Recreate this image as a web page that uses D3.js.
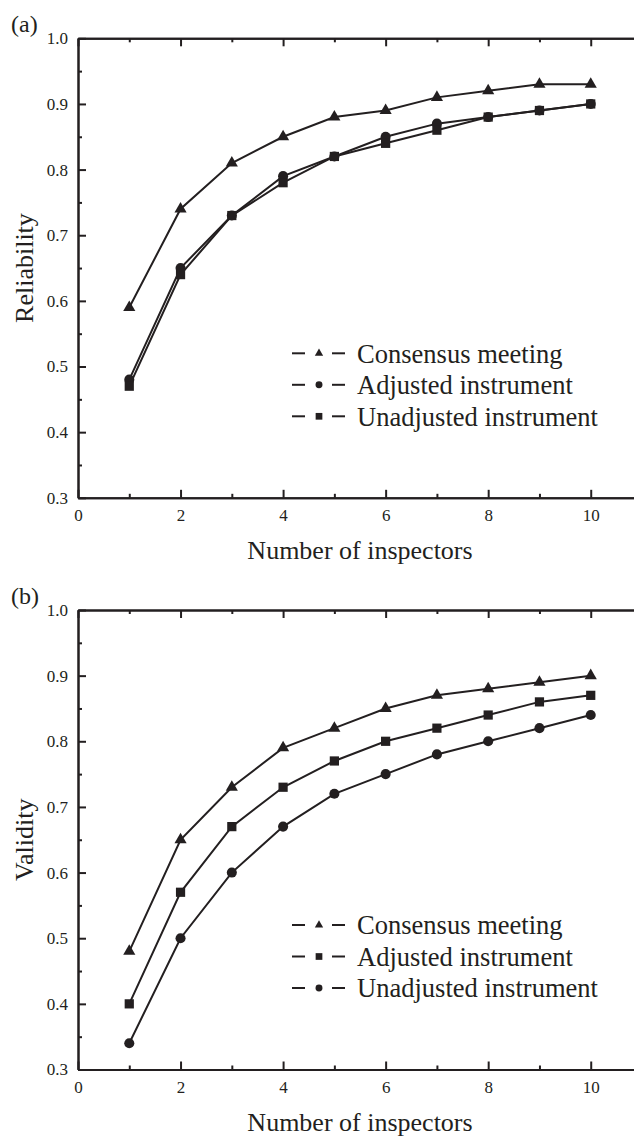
<!DOCTYPE html>
<html>
<head>
<meta charset="utf-8">
<script src="https://cdn.jsdelivr.net/npm/d3@7"></script>
<style>
  body { margin: 0; background: #fff; }
  svg { display: block; }
  .axis path, .axis line { stroke: #231f20; stroke-width: 2; }
  .axis text { font-family: "Liberation Serif", "Times New Roman", serif; font-size: 17px; fill: #231f20; }
  .title-text { font-family: "Liberation Serif", "Times New Roman", serif; font-size: 26px; fill: #231f20; }
  .legend-text { font-family: "Liberation Serif", "Times New Roman", serif; font-size: 27.5px; fill: #231f20; }
</style>
</head>
<body>
<svg id="chart" width="634" height="1136"></svg>
<script>
// x values shared by both panels
const inspectors = [1, 2, 3, 4, 5, 6, 7, 8, 9, 10];
const xMajorTicks = [0, 2, 4, 6, 8, 10];
const xMinorTicks = [1, 3, 5, 7, 9];
const yMajorTicks = [0.3, 0.4, 0.5, 0.6, 0.7, 0.8, 0.9, 1.0];
const yMinorTicks = [0.35, 0.45, 0.55, 0.65, 0.75, 0.85, 0.95];

// panel (a) reliability
const relConsensus  = [0.59, 0.74, 0.81, 0.85, 0.88, 0.89, 0.91, 0.92, 0.93, 0.93];
const relAdjusted   = [0.48, 0.65, 0.73, 0.79, 0.82, 0.85, 0.87, 0.88, 0.89, 0.90];
const relUnadjusted = [0.47, 0.64, 0.73, 0.78, 0.82, 0.84, 0.86, 0.88, 0.89, 0.90];

// panel (b) validity
const valConsensus  = [0.48, 0.65, 0.73, 0.79, 0.82, 0.85, 0.87, 0.88, 0.89, 0.90];
const valAdjusted   = [0.40, 0.57, 0.67, 0.73, 0.77, 0.80, 0.82, 0.84, 0.86, 0.87];
const valUnadjusted = [0.34, 0.50, 0.60, 0.67, 0.72, 0.75, 0.78, 0.80, 0.82, 0.84];

const seriesNames = ["Consensus meeting", "Adjusted instrument", "Unadjusted instrument"];

const ink = "#231f20";
const svg = d3.select("#chart");

// marker shapes and sizes (area)
const shapes = {
    triangle: { type: d3.symbolTriangle, plot: 64, legend: 30 },
    circle:   { type: d3.symbolCircle,   plot: 80, legend: 38 },
    square:   { type: d3.symbolSquare,   plot: 85, legend: 45 }
};

function drawPanel(config) {
    const left = 78, right = 642,
        top = config.top, bottom = config.top + 459.5;

    const x = d3.scaleLinear().domain([0, 11]).range([left, right]);
    const y = d3.scaleLinear().domain([0.3, 1.0]).range([bottom, top]);

    const g = svg.append("g");

    // axes: major + minor, ticks pointing inward
    const addAxis = (axis, tx, ty) => g.append("g")
        .attr("class", "axis")
        .attr("transform", "translate(" + tx + "," + ty + ")")
        .call(axis);

    addAxis(d3.axisBottom(x).tickValues(xMajorTicks).tickSize(-8).tickSizeOuter(0).tickPadding(11), 0, bottom);
    addAxis(d3.axisBottom(x).tickValues(xMinorTicks).tickSize(-4).tickSizeOuter(0).tickFormat(""), 0, bottom);
    addAxis(d3.axisTop(x).tickValues(xMajorTicks).tickSize(-8).tickSizeOuter(0).tickFormat(""), 0, top);
    addAxis(d3.axisTop(x).tickValues(xMinorTicks).tickSize(-4).tickSizeOuter(0).tickFormat(""), 0, top);
    addAxis(d3.axisLeft(y).tickValues(yMajorTicks).tickSize(-8).tickSizeOuter(0).tickPadding(10).tickFormat(d3.format(".1f")), left, 0);
    addAxis(d3.axisLeft(y).tickValues(yMinorTicks).tickSize(-4).tickSizeOuter(0).tickFormat(""), left, 0);
    addAxis(d3.axisRight(y).tickValues(yMajorTicks).tickSize(-8).tickSizeOuter(0).tickFormat(""), right, 0);

    // series lines and markers
    const line = d3.line().x((d, i) => x(inspectors[i])).y(d => y(d));

    config.series.forEach(s => {
        g.append("path")
            .datum(s.values)
            .attr("d", line)
            .attr("fill", "none")
            .attr("stroke", ink)
            .attr("stroke-width", 2);

        g.selectAll(null)
            .data(s.values)
            .join("path")
            .attr("transform", (d, i) => "translate(" + x(inspectors[i]) + "," + y(d) + ")")
            .attr("d", d3.symbol().type(shapes[s.shape].type).size(shapes[s.shape].plot))
            .attr("fill", ink);
    });

    // legend
    const legend = g.append("g");
    config.series.forEach((s, i) => {
        const ly = top + 315 + i * 31.5;
        legend.append("line").attr("x1", 292).attr("x2", 305).attr("y1", ly).attr("y2", ly)
            .attr("stroke", ink).attr("stroke-width", 2);
        legend.append("line").attr("x1", 332).attr("x2", 345).attr("y1", ly).attr("y2", ly)
            .attr("stroke", ink).attr("stroke-width", 2);
        legend.append("path")
            .attr("transform", "translate(319," + ly + ")")
            .attr("d", d3.symbol().type(shapes[s.shape].type).size(shapes[s.shape].legend))
            .attr("fill", ink);
        legend.append("text")
            .attr("class", "legend-text")
            .attr("transform", "translate(357," + ly + ") scale(0.965,1)")
            .attr("dy", "0.34em")
            .text(s.name);
    });

    // titles
    g.append("text")
        .attr("class", "title-text")
        .attr("x", (left + right) / 2)
        .attr("y", bottom + 61)
        .attr("text-anchor", "middle")
        .text("Number of inspectors");

    g.append("text")
        .attr("class", "title-text")
        .attr("transform", "translate(33," + ((top + bottom) / 2) + ") rotate(-90)")
        .attr("text-anchor", "middle")
        .text(config.yLabel);

    g.append("text")
        .attr("class", "title-text")
        .style("font-size", "24px")
        .attr("x", 11)
        .attr("y", top - 6)
        .text(config.tag);
}

drawPanel({
    top: 38.3,
    tag: "(a)",
    yLabel: "Reliability",
    series: [
        { name: seriesNames[0], values: relConsensus,  shape: "triangle" },
        { name: seriesNames[1], values: relAdjusted,   shape: "circle" },
        { name: seriesNames[2], values: relUnadjusted, shape: "square" }
    ]
});

drawPanel({
    top: 610,
    tag: "(b)",
    yLabel: "Validity",
    series: [
        { name: seriesNames[0], values: valConsensus,  shape: "triangle" },
        { name: seriesNames[1], values: valAdjusted,   shape: "square" },
        { name: seriesNames[2], values: valUnadjusted, shape: "circle" }
    ]
});
</script>
</body>
</html>
